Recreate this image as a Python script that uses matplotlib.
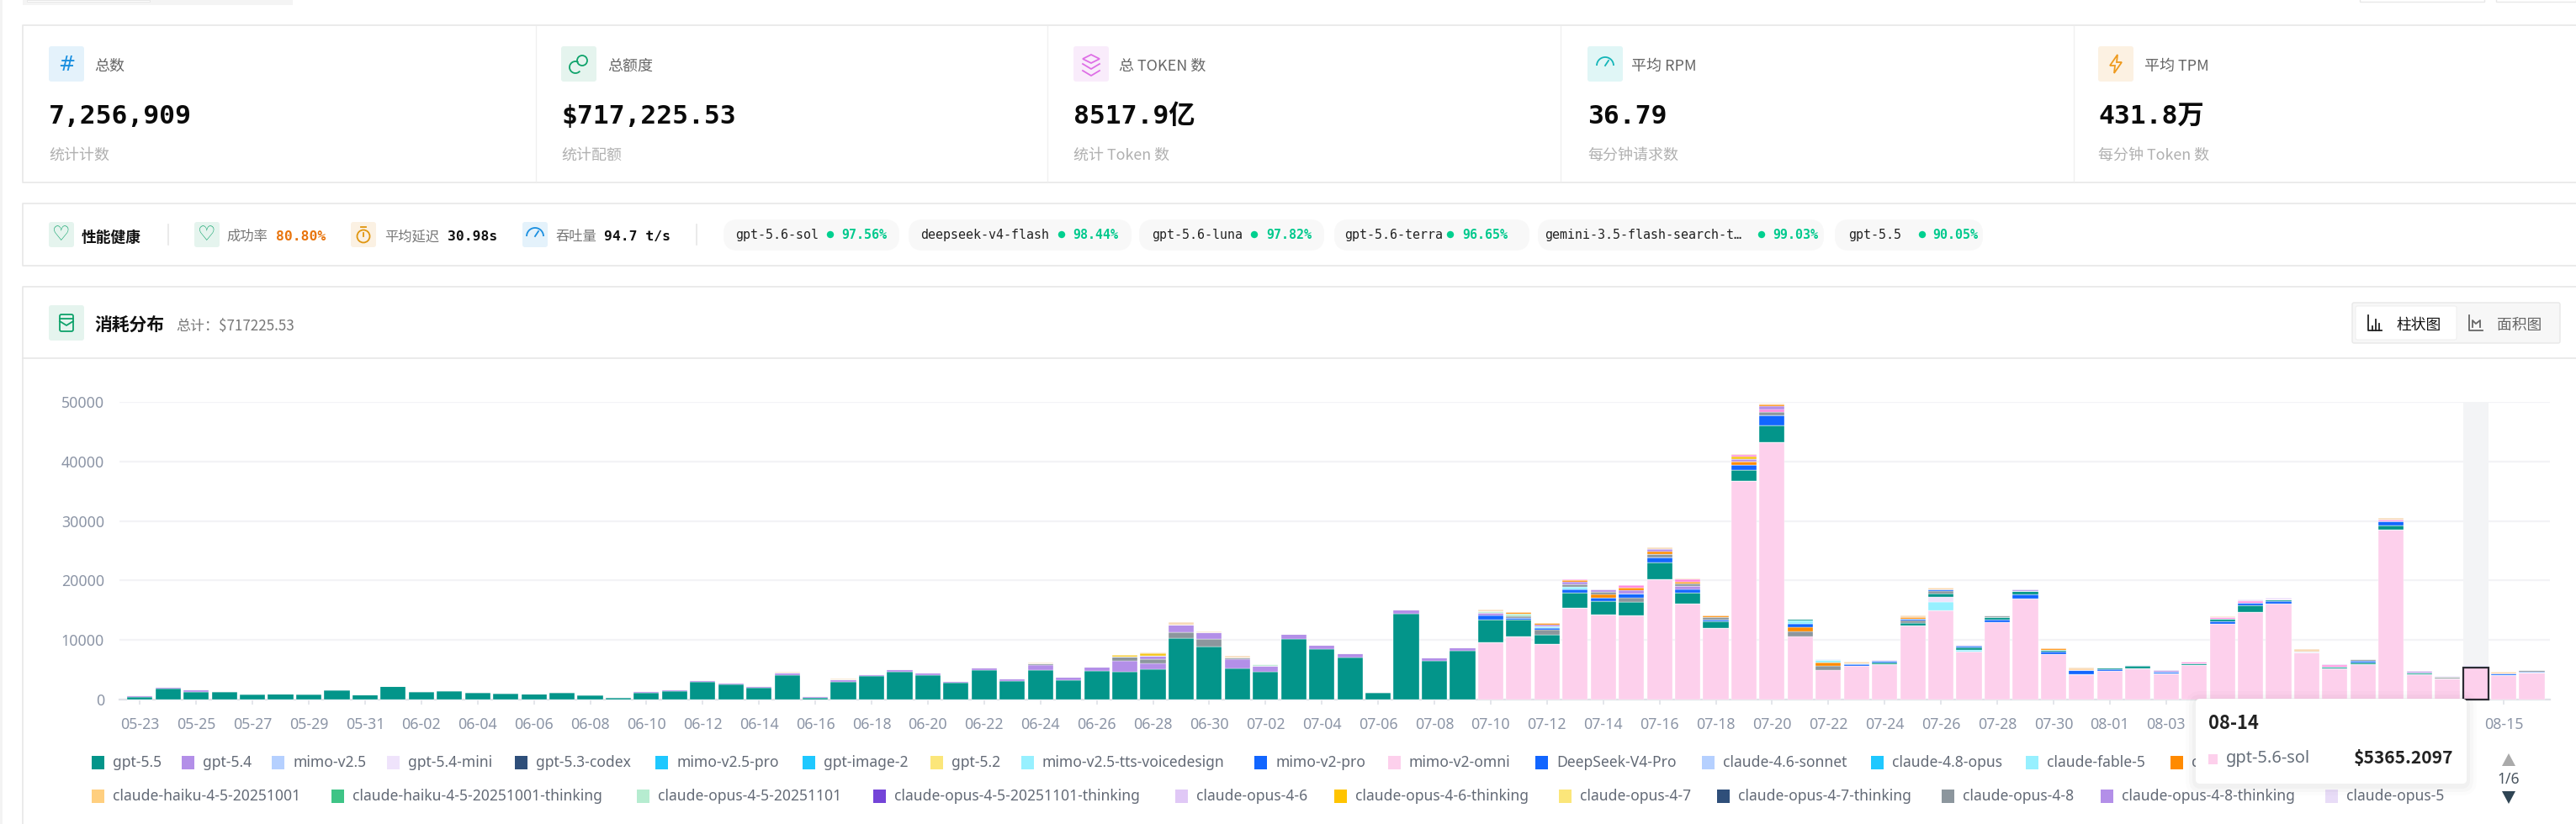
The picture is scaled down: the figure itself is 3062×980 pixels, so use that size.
import numpy as np
import pandas as pd
import matplotlib
matplotlib.use("Agg")
import matplotlib.pyplot as plt
from matplotlib.patches import Rectangle, FancyBboxPatch, Circle, Arc, Polygon

plt.rcParams['font.family'] = ['Noto Sans CJK SC', 'DejaVu Sans']
MONO = ['DejaVu Sans Mono', 'Noto Sans CJK SC']

dates = list(pd.date_range('2026-05-23', periods=86).strftime('%m-%d'))
y_ticks = [0, 10000, 20000, 30000, 40000, 50000]

gpt_5_6_sol = [0] * 48 + [9635, 10622, 9353, 15369, 14335, 14100, 20163, 16074, 12032, 36766, 43220, 10622, 4888,
                          5640, 5922, 12455, 14993, 7990, 12972, 16967, 7614, 4277, 4794, 5217, 4418, 5781, 12690,
                          14711, 16074, 7943, 5264, 5969, 28482, 4277, 3525, 5365, 4042, 4512]
gpt_5_5 = [470, 1790, 1316, 1270, 893, 987, 846, 1551, 846, 2256, 1270, 1457, 1128, 987, 987, 1128, 752, 329, 1128,
           1457, 2961, 2585, 1974, 4042, 329, 2961, 3948, 4653, 4089, 2820, 4935, 3102, 4935, 3243, 4794, 4653, 5076,
           10293, 8883, 5264, 4606, 10152, 8507, 7050, 1128, 14382, 6533, 8178,
           3807, 2726, 1551, 2538, 2209, 2303, 2867, 1880, 1128, 1746, 2870, 235, 0, 141, 282, 423, 564, 423, 423,
           564, 235, 0, 235, 423, 0, 282, 423, 1081, 282, 0, 282, 282, 799, 235, 0, 0, 0, 0]
gpt_5_4 = [190, 325, 329, 187, 94, 47, 94, 141, 47, 47, 140, 94, 94, 141, 47, 142, 94, 94, 282, 235, 282, 235, 282,
           470, 188, 376, 282, 376, 376, 282, 376, 376, 799, 564, 705, 1786, 940, 0, 0, 1551, 1034, 846, 611, 658,
           141, 752, 517, 517] + [0] * 38

opus_4_8_low = {59: 752, 60: 799}
orange_low = {59: 752, 60: 517}
blue_low = {59: 564, 61: 282, 66: 470, 67: 705, 68: 423, 70: 282, 74: 470, 76: 423}
fable_low = {59: 564, 60: 376, 64: 1457, 65: 329}
lavender_low = {64: 799}
opus_4_8_mid = {32: 329, 35: 752, 36: 799, 37: 940, 38: 1269, 39: 282, 50: 752, 53: 752, 63: 376, 64: 376}
deepseek_v4_pro = {48: 658, 49: 329, 50: 376, 51: 611, 52: 564, 53: 658, 54: 799, 55: 564, 56: 282, 57: 852, 58: 1650,
                   60: 235, 62: 282, 63: 329, 64: 282, 65: 282, 69: 611, 71: 141, 72: 282, 75: 423, 77: 141, 79: 282,
                   80: 611, 83: 235, 84: 329, 85: 188}
thinking_4_8 = {36: 517, 37: 1363, 38: 1128, 48: 423, 55: 564}
fable_mid = {50: 282, 51: 470}
orange_mid = {52: 517, 57: 607}
opus_4_8_top = {49: 282, 51: 376, 52: 470, 54: 611, 55: 423, 56: 376, 58: 520, 66: 235, 79: 235, 82: 282, 85: 188}
opus_4_5 = {40: 282, 48: 329, 49: 470}
hotpink_mid = {58: 510, 73: 282, 74: 282, 75: 329, 78: 188, 80: 329}
purple_top = {50: 188, 51: 423, 52: 376, 53: 564, 57: 424, 58: 480, 62: 141, 65: 141, 67: 235, 72: 188, 75: 188,
              78: 141, 81: 282}
orange_top = {49: 329, 50: 376, 51: 235, 53: 423, 54: 423, 55: 282, 56: 329, 58: 326, 61: 188, 63: 329, 64: 235,
              68: 329, 69: 235, 84: 188}
purple_last = {54: 470}
opus_4_6_thinking = {35: 329, 36: 423, 57: 377}
hotpink_top = {51: 235, 52: 94, 53: 423, 55: 376, 57: 330}
haiku_4_5 = {23: 141, 25: 141, 32: 188, 36: 141, 37: 376, 38: 188, 39: 235, 48: 329, 54: 282, 55: 188, 56: 47, 57: 140,
             58: 142, 61: 94, 63: 282, 64: 47, 69: 188, 74: 94, 77: 329, 80: 282, 84: 94}
opus_5 = {70: 47, 75: 141, 76: 376, 82: 141, 83: 228}

legend_row1 = ['gpt-5.5', 'gpt-5.4', 'mimo-v2.5', 'gpt-5.4-mini', 'gpt-5.3-codex', 'mimo-v2.5-pro', 'gpt-image-2',
               'gpt-5.2', 'mimo-v2.5-tts-voicedesign', 'mimo-v2-pro', 'mimo-v2-omni', 'DeepSeek-V4-Pro',
               'claude-4.6-sonnet', 'claude-4.8-opus', 'claude-fable-5', 'claude-haiku-4-5']
legend_row2 = ['claude-haiku-4-5-20251001', 'claude-haiku-4-5-20251001-thinking', 'claude-opus-4-5-20251101',
               'claude-opus-4-5-20251101-thinking', 'claude-opus-4-6', 'claude-opus-4-6-thinking', 'claude-opus-4-7',
               'claude-opus-4-7-thinking', 'claude-opus-4-8', 'claude-opus-4-8-thinking', 'claude-opus-5']

TEAL, PURPLE, PINK, BLUE, GREY = '#03958a', '#b38fe8', '#fdd0ec', '#1266ff', '#8c969d'
CYAN, SKY, ORANGE, HOT, LAV, MINT, BEIGE = '#97f0ff', '#1fc8ff', '#ff8a00', '#ff85dc', '#efe3fb', '#b6ecd0', '#f7d9b5'

legend_colors1 = [TEAL, PURPLE, '#b5d0ff', LAV, '#2f4f7a', SKY, SKY, '#fbe67a', CYAN, BLUE, PINK, BLUE, '#b5d0ff', SKY,
                  CYAN, ORANGE]
legend_colors2 = ['#ffcf7f', '#3ec486', MINT, '#7444d8', '#e0c8f6', '#ffc400', '#fbe67a', '#2f4f7a', GREY, PURPLE, '#e8dcf7']
legend_x1 = [109, 216, 323, 460, 612, 779, 954, 1106, 1214, 1491, 1650, 1825, 2023, 2224, 2408, 2580]
legend_x2 = [109, 394, 757, 1038, 1397, 1586, 1853, 2041, 2308, 2497, 2764]

stack = [
    (gpt_5_6_sol, PINK), (opus_4_8_low, GREY), (orange_low, ORANGE), (blue_low, BLUE), (fable_low, CYAN),
    (lavender_low, LAV), (gpt_5_5, TEAL), (gpt_5_4, PURPLE), (opus_4_8_mid, GREY), (deepseek_v4_pro, BLUE),
    (thinking_4_8, PURPLE), (fable_mid, CYAN), (orange_mid, ORANGE), (opus_4_8_top, GREY), (opus_4_5, MINT),
    (hotpink_mid, HOT), (purple_top, PURPLE), (orange_top, ORANGE), (purple_last, PURPLE),
    (opus_4_6_thinking, '#f5c518'), (hotpink_top, HOT), (haiku_4_5, BEIGE), (opus_5, LAV),
]


def col(s):
    if isinstance(s, dict):
        return np.array([s.get(i, 0) for i in range(len(dates))], float)
    return np.array(s, float)


W, H = 3062, 980
fig = plt.figure(figsize=(W / 100, H / 100), dpi=100, facecolor='white')


def px_axes(z):
    a = fig.add_axes([0, 0, 1, 1], zorder=z)
    a.set_xlim(0, W)
    a.set_ylim(H, 0)
    a.axis('off')
    a.patch.set_alpha(0)
    return a


bg = px_axes(0)
LINE = '#e8e8e8'


def rect(a, x0, y0, x1, y1, fc='white', ec='none', lw=0, z=1, **kw):
    a.add_patch(Rectangle((x0, y0), x1 - x0, y1 - y0, fc=fc, ec=ec, lw=lw, zorder=z, **kw))


def rrect(a, x0, y0, x1, y1, r, fc='white', ec='none', lw=0, z=1, **kw):
    a.add_patch(FancyBboxPatch((x0 + r, y0 + r), x1 - x0 - 2 * r, y1 - y0 - 2 * r,
                               boxstyle=f'round,pad={r},rounding_size={r}', fc=fc, ec=ec, lw=lw, zorder=z, **kw))


def txt(a, x, y, s, px, color='#333333', weight='normal', ha='left', family=None, z=5):
    kw = {'family': family} if family else {}
    if family != 'Noto Sans':
        y = y + 1.5
    return a.text(x, y, s, fontsize=px * 0.72, color=color, fontweight=weight, ha=ha, va='center', zorder=z, **kw)


def icon(a, kind, x0, y0, size_w, size_h, bgc, fg):
    rrect(a, x0, y0, x0 + size_w, y0 + size_h, 3, fc=bgc, z=2)
    cx, cy = x0 + size_w / 2, y0 + size_h / 2
    lw = 1.3
    if kind == 'hash':
        txt(a, cx, cy, '#', 24, fg, ha='center', family='DejaVu Sans')
    elif kind == 'coins':
        a.add_patch(Circle((cx + 4, cy - 4), 6, fc='none', ec=fg, lw=lw, zorder=3))
        a.add_patch(Arc((cx - 4, cy + 4), 14, 14, theta1=40, theta2=300, ec=fg, lw=lw, zorder=3))
    elif kind == 'layers':
        for dy in (8, 0):
            a.plot([cx - 10, cx, cx + 10], [cy + dy, cy + dy + 6, cy + dy], color=fg, lw=lw, zorder=3)
        a.add_patch(Polygon([[cx - 10, cy - 6], [cx, cy - 11], [cx + 10, cy - 6], [cx, cy - 1]], fc='none', ec=fg, lw=lw, zorder=3))
    elif kind == 'gauge':
        a.add_patch(Arc((cx, cy + 2), 20, 20, theta1=180, theta2=360, ec=fg, lw=lw, zorder=3))
        a.plot([cx, cx + 4], [cy + 2, cy - 4], color=fg, lw=lw, zorder=3)
    elif kind == 'bolt':
        a.add_patch(Polygon([[cx + 2, cy - 11], [cx - 7, cy + 2], [cx - 1, cy + 2], [cx - 2, cy + 11], [cx + 7, cy - 2], [cx + 1, cy - 2]],
                            fc='none', ec=fg, lw=lw, zorder=3))
    elif kind == 'heart':
        txt(a, cx, cy - 1, '\u2661', 24, fg, ha='center', family='DejaVu Sans')
    elif kind == 'timer':
        a.add_patch(Circle((cx, cy + 2), 7.5, fc='none', ec=fg, lw=lw, zorder=3))
        a.plot([cx - 3, cx + 3], [cy - 9, cy - 9], color=fg, lw=lw, zorder=3)
        a.plot([cx, cx], [cy + 2, cy - 2], color=fg, lw=lw, zorder=3)
    elif kind == 'wallet':
        rrect(a, cx - 8, cy - 10, cx + 8, cy + 10, 2, fc='none', ec=fg, lw=lw, z=3)
        a.plot([cx - 8, cx, cx + 8], [cy - 2, cy + 3, cy - 2], color=fg, lw=lw, zorder=3)
        a.plot([cx - 8, cx + 8], [cy - 5, cy - 5], color=fg, lw=lw, zorder=3)
    elif kind == 'bars':
        a.plot([cx - 8, cx - 8, cx + 8], [cy - 10, cy + 8, cy + 8], color=fg, lw=lw, zorder=6)
        a.plot([cx - 3, cx - 3], [cy + 8, cy + 3], color=fg, lw=lw, zorder=6)
        a.plot([cx + 1, cx + 1], [cy + 8, cy - 5], color=fg, lw=lw, zorder=6)
        a.plot([cx + 5, cx + 5], [cy + 8, cy], color=fg, lw=lw, zorder=6)
    elif kind == 'area':
        a.plot([cx - 8, cx - 8, cx + 8], [cy - 10, cy + 8, cy + 8], color=fg, lw=lw, zorder=6)
        a.plot([cx - 4, cx - 4, cx, cx + 5, cx + 5], [cy + 4, cy - 4, cy, cy - 4, cy + 4], color=fg, lw=lw, zorder=6)


# top strip
rect(bg, 27, 0, 348, 6, fc='#f4f4f4')
rect(bg, 32, 0, 178, 2, fc='white', ec='#e4e4e4', lw=0.6, z=2)
for x0, x1 in [(2805, 2953), (2967, 3062)]:
    rect(bg, x0, -3, x1, 2, fc='white', ec=LINE, lw=1)
rect(bg, 0, 0, 3, H, fc='#f3f3f3')

# stat card
bg.plot([W, 27, 27, W], [30, 30, 217, 217], color=LINE, lw=1.2)
for x in (637, 1245, 1855, 2465):
    bg.plot([x, x], [31, 216], color='#f0f0f0', lw=1)
cards = [
    (58, 112, 'hash', '#e4f2fb', '#1a8fe0', '总数', '7,256,909', '统计计数'),
    (667, 722, 'coins', '#e5f4ee', '#0fa36b', '总额度', '$717,225.53', '统计配额'),
    (1276, 1330, 'layers', '#f9ecfb', '#de6fe6', '总 TOKEN 数', '8517.9亿', '统计 Token 数'),
    (1887, 1939, 'gauge', '#e0f6f6', '#14b5b8', '平均 RPM', '36.79', '每分钟请求数'),
    (2494, 2549, 'bolt', '#fcf1e2', '#ee9a1e', '平均 TPM', '431.8万', '每分钟 Token 数'),
]
for ix, tx, kind, c_bg, c_fg, label, value, sub in cards:
    icon(bg, kind, ix, 55, 42, 42, c_bg, c_fg)
    txt(bg, tx, 77, label, 18, '#666666')
    txt(bg, ix, 137, value, 31.4, '#0a0a0a', 'bold', family=MONO)
    txt(bg, ix, 183, sub, 18, '#b0b0b0')

# health card
bg.plot([W, 27, 27, W], [242, 242, 316, 316], color=LINE, lw=1.2)
icon(bg, 'heart', 58, 264, 30, 30, '#e5f4ee', '#0fa36b')
txt(bg, 97, 281, '性能健康', 17.7, '#111111', 'bold')
bg.plot([199.5, 199.5], [267, 291], color='#e6e6e6', lw=1.2)
bg.plot([827.5, 827.5], [267, 291], color='#e6e6e6', lw=1.2)
health = [
    (231, 269, 328, 'heart', '#e5f4ee', '#0fa36b', '成功率', '80.80%', '#e8740c'),
    (417, 457, 532, 'timer', '#fbf1e3', '#e0960f', '平均延迟', '30.98s', '#111111'),
    (621, 660, 718, 'gauge', '#e4f2fb', '#1a8fe0', '吞吐量', '94.7 t/s', '#111111'),
]
for ix, tx, vx, kind, c_bg, c_fg, label, value, c in health:
    icon(bg, kind, ix, 264, 30, 30, c_bg, c_fg)
    txt(bg, tx, 280, label, 16.3, '#777777')
    txt(bg, vx, 280, value, 16.4, c, 'bold', family=MONO)
pills = [
    (860, 1069, 874.5, 987, 1000.5, 'gpt-5.6-sol', '97.56%'),
    (1080, 1345, 1094, 1262, 1275, 'deepseek-v4-flash', '98.44%'),
    (1354, 1574, 1369, 1491, 1505, 'gpt-5.6-luna', '97.82%'),
    (1586, 1818, 1598, 1724, 1738, 'gpt-5.6-terra', '96.65%'),
    (1828, 2168, 1836, 2094, 2107, 'gemini-3.5-flash-search-t…', '99.03%'),
    (2181, 2357, 2197, 2285, 2297, 'gpt-5.5', '90.05%'),
]
for x0, x1, tx, dx, vx, name, pct in pills:
    rrect(bg, x0, 261, x1, 298, 17, fc='#f8f8f8', z=2)
    txt(bg, tx, 278, name, 15, '#222222', family=MONO)
    bg.add_patch(Circle((dx, 279), 4.2, fc='#00d08f', ec='none', zorder=3))
    txt(bg, vx, 278, pct, 15, '#00c98d', 'bold', family=MONO)

# chart card
bg.plot([W, 27, 27], [341, 341, H], color=LINE, lw=1.2)
bg.plot([27, W], [426, 426], color=LINE, lw=1.2)
icon(bg, 'wallet', 58, 363, 42, 42, '#e5f4ee', '#0fa36b')
txt(bg, 112, 385, '消耗分布', 20.8, '#111111', 'bold')
txt(bg, 209, 386, '总计：$717225.53', 17, '#777777')
rrect(bg, 2796, 360, 3043, 408, 2, fc='#f7f7f7', ec='#e8e8e8', lw=1, z=2)
rrect(bg, 2800, 364, 2920, 404, 2, fc='white', ec='#ececec', lw=0.6, z=3)
icon(bg, 'bars', 2813, 375, 20, 20, 'none', '#222222')
icon(bg, 'area', 2933, 375, 20, 20, 'none', '#666666')
txt(bg, 2848, 385, '柱状图', 17.8, '#111111', 'normal')
txt(bg, 2968, 385, '面积图', 17.8, '#666666', 'normal')

# plot area: 0 at y=832, 50000 at y=478; day i centre at 166.3+33.45*i
x_left, x_right, y_top, y_zero = 142, 3031, 478, 832
ax = fig.add_axes([x_left / W, 1 - y_zero / H, (x_right - x_left) / W, (y_zero - y_top) / H], zorder=1)
ax.patch.set_alpha(0)
STEP, X0 = 33.45, 166.3
ax.set_xlim((x_left - X0) / STEP, (x_right - X0) / STEP)
ax.set_ylim(0, 50000)
xs = np.arange(len(dates))
hover = dates.index('08-14')
ax.set_yticks(y_ticks)
ax.set_yticklabels([str(v) for v in y_ticks], fontsize=12.8, color='#8c95a6', family='Noto Sans')
ax.tick_params(axis='y', length=0, pad=13)
ax.set_xticks(xs[::2])
# the tooltip covers 08-05 .. 08-13 in the picture, so those labels stay empty
shown = [d if not (dates.index('08-05') <= i <= dates.index('08-13')) else '' for i, d in enumerate(dates)][::2]
ax.set_xticklabels(shown, fontsize=12.8, color='#8c95a6', family='Noto Sans')
ax.tick_params(axis='x', length=4, width=1.2, color='#dfe2e7', pad=11)
ax.grid(axis='y', color='#f3f3f6', lw=1.6, zorder=0)
ax.set_axisbelow(True)
for s in ('top', 'right', 'left'):
    ax.spines[s].set_visible(False)
ax.spines['bottom'].set_color('#dfe2e7')
ax.spines['bottom'].set_linewidth(1.6)

# hover band behind 08-14
ax.axvspan(hover - 0.45, hover + 0.45, color='#f3f4f6', lw=0, zorder=1)

bottom = np.zeros(len(dates))
for values, color in stack:
    v = col(values)
    ax.bar(xs, v, 0.9, bottom=bottom, color=color, edgecolor='#ffffff', linewidth=0.25, zorder=3, clip_on=False)
    bottom += v
sol = col(gpt_5_6_sol)
ax.bar([hover], [sol[hover]], 0.9, fc='none', ec='#2b2b33', lw=1.6, zorder=4, clip_on=False)

# overlay: legend, pager, tooltip
top = px_axes(2)
for names, colors, lx, ly in [(legend_row1, legend_colors1, legend_x1, 907), (legend_row2, legend_colors2, legend_x2, 947)]:
    for name, c, x in zip(names, colors, lx):
        rect(top, x, ly - 8, x + 15, ly + 8, fc=c, z=2)
        txt(top, x + 25, ly, name, 17.5, '#636a76', family='Noto Sans', z=3)
top.add_patch(Polygon([[2974, 911], [2982, 896], [2990, 911]], fc='#aaaaaa', ec='none', zorder=3))
txt(top, 2982, 927, '1/6', 17.5, '#4a5560', ha='center', family='Noto Sans', z=3)
top.add_patch(Polygon([[2974, 941], [2982, 956], [2990, 941]], fc='#2f4554', ec='none', zorder=3))

for pad, alpha in [(12, 0.012), (8, 0.018), (4, 0.025)]:
    rrect(top, 2610 - pad, 832 - pad + 2, 2932 + pad, 932 + pad + 2, 6 + pad, fc='black', alpha=alpha, z=6)
rrect(top, 2610, 831, 2932, 932, 5, fc='white', z=7)
txt(top, 2625, 859, dates[hover], 22, '#222222', 'bold', z=8)
rect(top, 2625, 897, 2636, 909, fc=PINK, z=8)
txt(top, 2646, 902, 'gpt-5.6-sol', 20, '#666f7a', family='Noto Sans', z=8)
txt(top, 2916, 900, '$5365.2097', 21, '#222222', 'bold', ha='right', z=8)

fig.savefig('out.png', dpi=100, facecolor='white')
